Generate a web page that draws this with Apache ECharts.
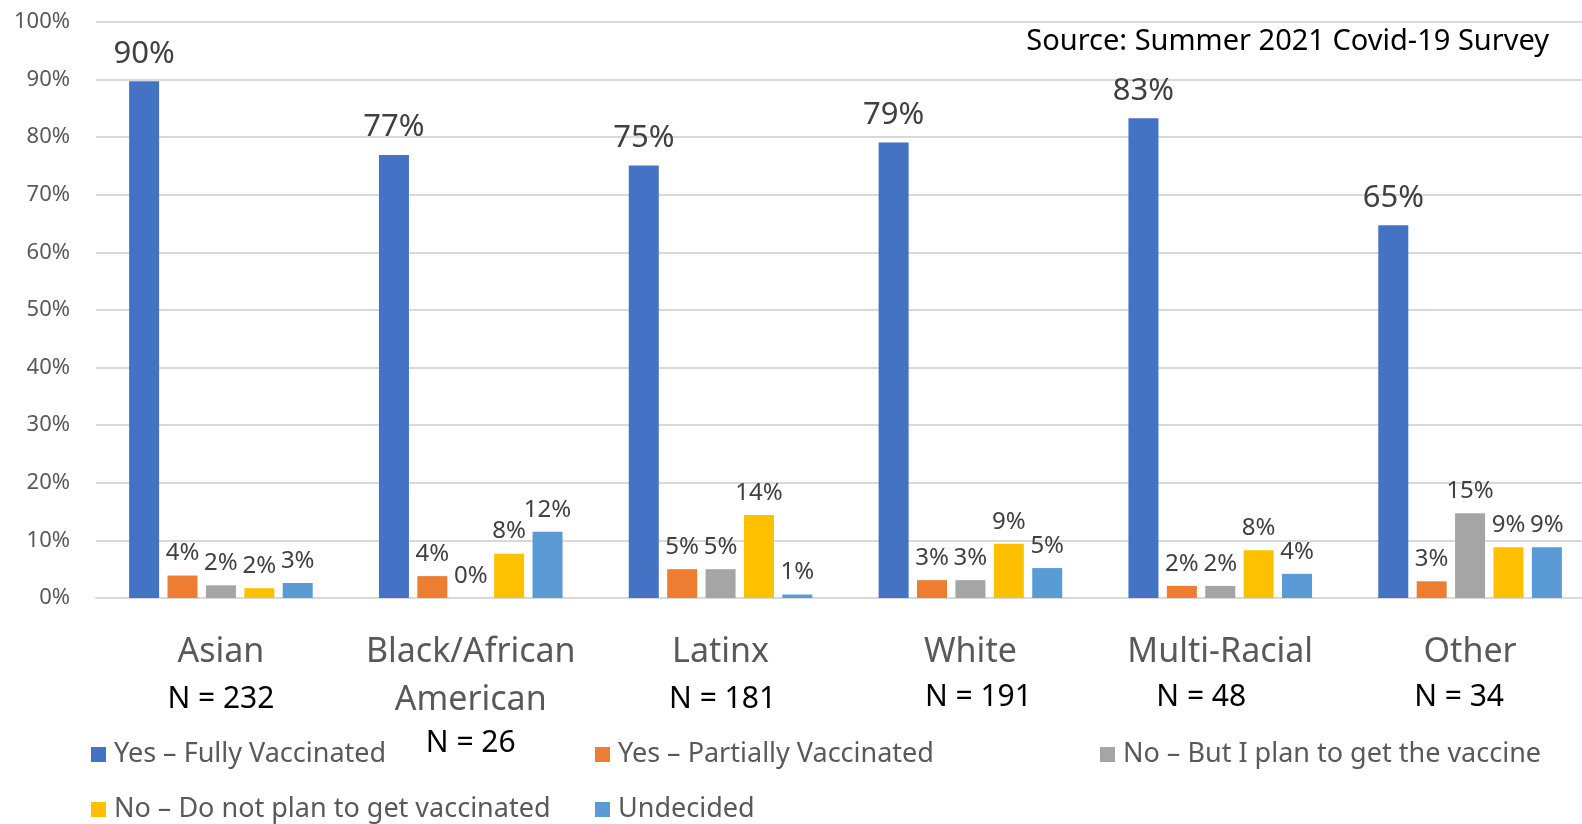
<!DOCTYPE html>
<html>
<head>
<meta charset="utf-8">
<script src="https://cdn.jsdelivr.net/npm/echarts@6/dist/echarts.min.js"></script>
<style>
  html, body { margin: 0; padding: 0; background: #fff; }
  #chart { width: 1582px; height: 824px; }
</style>
</head>
<body>
<div id="chart"></div>
<script>
const categories = ['Asian', 'Black/African\nAmerican', 'Latinx', 'White', 'Multi-Racial', 'Other'];
const sampleSizes = ['N = 232', 'N = 26', 'N = 181', 'N = 191', 'N = 48', 'N = 34'];

const seriesNames = [
    'Yes – Fully Vaccinated',
    'Yes – Partially Vaccinated',
    'No – But I plan to get the vaccine',
    'No – Do not plan to get vaccinated',
    'Undecided'
];
const colors = ['#4472C4', '#ED7D31', '#A5A5A5', '#FFC000', '#5B9BD5'];

// values in percent
const fullyVaccinated = [89.7, 76.9, 75.1, 79.1, 83.3, 64.7];
const partiallyVaccinated = [3.9, 3.8, 5.0, 3.1, 2.1, 2.9];
const planToGet = [2.2, 0, 5.0, 3.1, 2.1, 14.7];
const noPlan = [1.7, 7.7, 14.4, 9.4, 8.3, 8.8];
const undecided = [2.6, 11.5, 0.6, 5.2, 4.2, 8.8];

const yTicks = [0, 10, 20, 30, 40, 50, 60, 70, 80, 90, 100];

const seriesData = [fullyVaccinated, partiallyVaccinated, planToGet, noPlan, undecided];

// the "N = .." text boxes are nudged around a bit in the original
const nShift = [0, 0, 2, 8, -19, -11];
const nLineHeight = [46, 38, 46, 42, 42, 42];

// legend placement, mimics the 3-column layout of the original
const legendSpots = [
    { left: 91, top: 741 },
    { left: 595, top: 741 },
    { left: 1100, top: 741 },
    { left: 91, top: 796 },
    { left: 595, top: 796 }
];

let nRich = {};
nShift.forEach((s, i) => {
    nRich['n' + i] = {
        fontFamily: 'Noto Sans',
        fontSize: 30,
        color: '#000',
        lineHeight: nLineHeight[i],
        padding: s >= 0 ? [0, 0, 0, 2 * s] : [0, -2 * s, 0, 0]
    };
});

let myChart = echarts.init(document.getElementById('chart'));

let option = {
    animation: false,
    title: {
        text: 'Source: Summer 2021 Covid-19 Survey',
        right: 33,
        top: 27,
        padding: 0,
        textStyle: {
            fontFamily: 'Noto Sans',
            fontWeight: 'normal',
            fontSize: 29,
            color: '#000'
        }
    },
    grid: {
        left: 96,
        width: 1499,
        top: 22,
        bottom: 226,
        outerBoundsMode: 'none'
    },
    legend: seriesNames.map((name, i) => ({
        data: [name],
        left: legendSpots[i].left,
        top: legendSpots[i].top,
        padding: 0,
        icon: 'rect',
        itemWidth: 15,
        itemHeight: 15,
        textStyle: {
            fontFamily: 'Noto Sans',
            fontSize: 27,
            color: '#595959',
            padding: [0, 0, 0, 3]
        }
    })),
    xAxis: {
        type: 'category',
        data: categories,
        axisLine: {
            lineStyle: { color: '#d9d9d9', width: 2 }
        },
        axisTick: { show: false },
        axisLabel: {
            margin: 30,
            interval: 0,
            formatter: (val, idx) => {
                let parts = val.split('\n').map(s => '{c|' + s + '}');
                return parts.join('\n') + '\n{n' + idx + '|' + sampleSizes[idx] + '}';
            },
            rich: Object.assign({
                c: {
                    fontFamily: 'Noto Sans',
                    fontSize: 34,
                    color: '#595959',
                    lineHeight: 48
                }
            }, nRich)
        }
    },
    yAxis: {
        type: 'value',
        min: yTicks[0],
        max: yTicks[yTicks.length - 1],
        interval: 10,
        axisLine: { show: false },
        axisTick: { show: false },
        splitLine: {
            lineStyle: { color: '#d9d9d9', width: 2 }
        },
        axisLabel: {
            margin: 26,
            fontFamily: 'Noto Sans',
            fontSize: 22,
            color: '#595959',
            formatter: '{value}%'
        }
    },
    series: seriesNames.map((name, i) => ({
        name: name,
        type: 'bar',
        barWidth: 30,
        barGap: '28%',
        itemStyle: { color: colors[i] },
        label: {
            show: true,
            position: 'top',
            distance: i === 0 ? 12 : 10,
            fontFamily: 'Noto Sans',
            fontSize: i === 0 ? 31 : 24,
            color: '#404040',
            formatter: p => Math.round(p.value) + '%'
        },
        data: seriesData[i]
    }))
};

myChart.setOption(option);
</script>
</body>
</html>
